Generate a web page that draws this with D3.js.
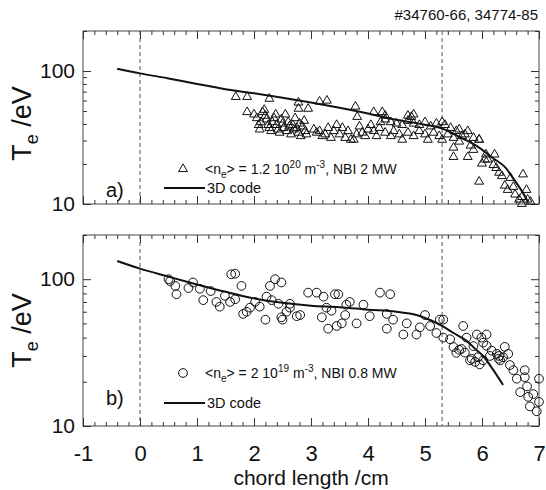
<!DOCTYPE html>
<html>
<head>
<meta charset="utf-8">
<script src="https://cdn.jsdelivr.net/npm/d3@7"></script>
<style>
  body { margin: 0; background: #fff; }
  svg { display: block; font-family: "Liberation Sans", Arial, sans-serif; }
</style>
</head>
<body>
<div id="chart"></div>
<script>
// chord length (cm), Te (eV)
const codeA = [[-0.4,104],[0,96],[0.5,88],[1,80],[1.5,73],[2,68],[2.5,63],[3,58],[3.5,53],[4,48],[4.5,43],[5,39.5],[5.3,37],[5.6,32],[5.9,27.5],[6.2,22],[6.4,19],[6.55,15.5],[6.7,12.5],[6.8,10.5]]

const measA = [
  [1.68,65],[1.88,65],[2.27,63],[2.78,59],[2.78,53],[2.95,53],[3.15,60],[3.28,61],[3.78,55],[3.81,46],[4.1,50],[4.25,50],[4.3,47],[4.7,47],[4.76,46],[4.8,48],
  [1.88,50],[2.0,48],[2.05,45],[2.08,40],[2.1,37],[2.12,42],[2.15,50],[2.18,52],[2.2,47],[2.22,44],[2.25,40],[2.27,38],[2.3,36],[2.32,42],[2.35,45],[2.38,48],[2.4,40],[2.42,37],[2.45,35],[2.48,44],[2.5,41],[2.52,38],[2.55,48],[2.58,36],[2.6,42],[2.62,39],[2.65,34],[2.68,40],[2.7,37],[2.72,45],[2.75,38],[2.78,35],[2.8,41],[2.82,33],[2.85,39],[2.88,43],[2.9,36],[2.92,34],
  [3.05,37],[3.1,35],[3.15,36],[3.2,33],[3.25,34],[3.3,38],[3.35,32],[3.4,36],[3.45,40],[3.5,34],[3.55,38],[3.6,32],[3.65,36],[3.7,31],[3.75,31],[3.8,34],[3.85,39],[3.9,35],[3.95,33],[4.0,37],[4.05,40],[4.1,36],[4.15,33],[4.2,38],[4.22,42],
  [4.3,44],[4.4,42],[4.5,41],[4.6,40],[4.7,43],[4.8,41],[4.9,40],[5.0,42],[5.1,39],[5.2,41],[5.3,42],[5.35,40],[5.45,38],[5.55,36],[5.6,37],[5.7,34],[5.75,36],[5.85,32],[5.95,31],
  [4.3,35],[4.4,33],[4.45,36],[4.55,34],[4.6,31],[4.7,35],[4.8,33],[4.9,36],[5.0,34],[5.05,31],[5.15,35],[5.25,33],[5.3,31],[5.4,34],[5.5,32],[5.6,30],[5.65,33],
  [5.5,27],[5.5,23],[5.75,23],[5.95,31],[5.95,15],[6.0,20.5],[6.07,24],[6.1,22],[6.22,24],[6.25,19],[6.3,17.5],[6.35,16.5],[6.4,14],[6.45,13],[6.5,16],[6.55,13.7],[6.58,12],[6.65,11],[6.7,11.5],[6.72,17],[6.78,13],[6.8,11],[6.7,10.2],[6.85,10.6],[6.2,20],[6.05,22],[5.85,26],[5.8,28]
]

const codeB = [[-0.4,133],[0,118],[0.5,104],[1,92],[1.5,82],[2,74],[2.5,69],[3,66],[3.5,64.5],[4,62],[4.5,60],[4.85,57],[5.1,52.5],[5.3,48],[5.5,43],[5.73,38],[5.9,33],[6.02,30],[6.2,24],[6.37,19]]

const measB = [
  [0.5,100],[0.53,97],[0.62,90],[0.64,79],[0.85,87],[0.93,95],[1.05,86],[1.11,72],[1.24,83],[1.34,70],[1.4,65],[1.49,77],[1.58,70],[1.6,108],[1.67,109],[1.67,73],[1.78,90],[1.81,58],[1.87,60],[1.93,64],
  [2.02,70],[2.1,65],[2.22,76],[2.31,72],[2.28,90],[2.37,100],[2.48,95],[2.43,68],[2.48,55],[2.57,60],[2.63,68],[2.63,64],[2.2,53],[2.5,53],[2.75,56],[2.81,57],[2.95,81],
  [3.1,81],[3.22,76],[3.19,55],[3.27,64],[3.36,61],[3.3,46],[3.42,79],[3.48,79],[3.54,50],[3.45,48],[3.62,67],[3.6,57],[3.68,70],[3.8,50],[3.92,67],[4.03,56],
  [4.21,81],[4.33,58],[4.33,46],[4.39,79],[4.44,53],[4.62,42],[4.68,50],[4.85,42],[4.91,47],[5.0,57],[5.09,48],[5.2,43],[5.26,53],[5.32,53],[5.32,40],
  [5.44,39],[5.5,34.5],[5.55,31.5],[5.64,33.5],[5.67,48],[5.7,31.6],[5.73,40],[5.82,28.7],[5.85,35],[5.88,27.3],[5.91,42],[5.99,40],[6.02,37],[6.08,42],[6.08,35.2],
  [6.14,30],[6.17,32.6],[6.26,31],[6.29,28.7],[6.37,29.4],[6.4,34.6],[6.46,31],[6.49,26],[6.55,24],[5.79,28],[6.02,28],[6.32,28],[5.96,26.3],[5.93,29.4],[5.6,33],[6.3,30],
  [6.75,24],[6.75,21.5],[6.61,21],[6.67,17],[6.79,18.6],[6.81,15.8],[6.9,16.5],[6.84,13.6],[6.96,12.6],[7.0,21],[7.0,14.6]
]

const xMajor = [-1, 0, 1, 2, 3, 4, 5, 6, 7]
const yMajor = [10, 100]
const yMinor = [20, 30, 40, 50, 60, 70, 80, 90, 200]
const guideLines = [0, 5.3]

const width = 546
const height = 490
const ink = "#111"

const svg = d3.select("#chart")
  .append("svg")
    .attr("width", width)
    .attr("height", height)

const xScale = d3.scaleLinear()
  .domain([-1, 7])
  .range([83, 539])

const xMinor = d3.range(-1, 7.001, 0.2).map(d => +d.toFixed(1))

const drawPanel = (top, bottom, data, code, marker, tag, legend, showX) => {
  const yScale = d3.scaleLog()
    .domain([10, 200])
    .range([bottom, top])

  const g = svg.append("g")

  // frame
  g.append("rect")
    .attr("x", xScale(-1))
    .attr("y", top)
    .attr("width", xScale(7) - xScale(-1))
    .attr("height", bottom - top)
    .attr("fill", "none")
    .attr("stroke", "#444")

  g.selectAll(".guide")
    .data(guideLines)
    .join("line")
      .attr("x1", d => xScale(d))
      .attr("x2", d => xScale(d))
      .attr("y1", top)
      .attr("y2", bottom)
      .attr("stroke", "#555")
      .attr("stroke-dasharray", "4,3")

  const none = () => ""
  const axes = [
    [d3.axisBottom(xScale).tickValues(xMajor).tickSize(-8).tickFormat(showX ? d => String(d) : none), `translate(0,${bottom})`, 19, "22px"],
    [d3.axisBottom(xScale).tickValues(xMinor).tickSize(-4).tickFormat(none), `translate(0,${bottom})`, 8, "20px"],
    [d3.axisTop(xScale).tickValues(xMajor).tickSize(-8).tickFormat(none), `translate(0,${top})`, 8, "20px"],
    [d3.axisTop(xScale).tickValues(xMinor).tickSize(-4).tickFormat(none), `translate(0,${top})`, 8, "20px"],
    [d3.axisLeft(yScale).tickValues(yMajor).tickSize(-8).tickFormat(d3.format("d")), `translate(${xScale(-1)},0)`, 8, "21px"],
    [d3.axisLeft(yScale).tickValues(yMinor).tickSize(-4).tickFormat(none), `translate(${xScale(-1)},0)`, 8, "20px"],
    [d3.axisRight(yScale).tickValues(yMajor).tickSize(-8).tickFormat(none), `translate(${xScale(7)},0)`, 8, "20px"],
    [d3.axisRight(yScale).tickValues(yMinor).tickSize(-4).tickFormat(none), `translate(${xScale(7)},0)`, 8, "20px"]
  ]

  axes.forEach(([axis, tr, pad, size]) => {
    const a = g.append("g")
      .attr("transform", tr)
      .call(axis.tickPadding(pad))
    a.select(".domain").remove()
    a.selectAll("line").attr("stroke", "#333")
    a.selectAll("text")
      .attr("fill", ink)
      .style("font-size", size)
      .style("font-family", "Liberation Sans, Arial, sans-serif")
  })

  const line = d3.line()
    .x(d => xScale(d[0]))
    .y(d => yScale(d[1]))
    .curve(d3.curveMonotoneX)

  g.append("path")
    .attr("d", line(code))
    .attr("fill", "none")
    .attr("stroke", ink)
    .attr("stroke-width", 2)

  const sym = d3.symbol().type(marker === "tri" ? d3.symbolTriangle : d3.symbolCircle)
    .size(marker === "tri" ? 34 : 60)

  g.selectAll(".pt")
    .data(data)
    .join("path")
      .attr("d", sym)
      .attr("transform", d => `translate(${xScale(d[0])},${yScale(d[1]) + (marker === "tri" ? 1 : 0)})`)
      .attr("fill", "none")
      .attr("stroke", ink)
      .attr("stroke-width", 1)

  // y label
  const ly = (top + bottom) / 2 + legend.labelShift
  const yl = g.append("text")
    .attr("transform", `translate(31,${ly}) rotate(-90)`)
    .attr("text-anchor", "middle")
    .attr("fill", ink)
    .style("font-size", "27px")
  yl.append("tspan").text("T")
  yl.append("tspan").text("e").attr("dy", 7).style("font-size", "18px")
  yl.append("tspan").text(" /eV").attr("dy", -7)

  g.append("text")
    .attr("x", 106)
    .attr("y", legend.tagY)
    .attr("fill", ink)
    .style("font-size", "20px")
    .text(tag)

  // legend
  g.append("path")
    .attr("d", sym)
    .attr("transform", `translate(183,${legend.y1})`)
    .attr("fill", "none")
    .attr("stroke", ink)

  const t1 = g.append("text")
    .attr("x", 205)
    .attr("y", legend.y1 + 5)
    .attr("fill", ink)
    .style("font-size", "14px")
  t1.append("tspan").text("<n")
  t1.append("tspan").text("e").attr("dy", 4).style("font-size", "10px")
  t1.append("tspan").text(`> = ${legend.n} 10`).attr("dy", -4)
  t1.append("tspan").text(legend.exp).attr("dy", -6).style("font-size", "10px")
  t1.append("tspan").text(" m").attr("dy", 6)
  t1.append("tspan").text("-3").attr("dy", -6).style("font-size", "10px")
  t1.append("tspan").text(`, NBI ${legend.nbi} MW`).attr("dy", 6)

  g.append("line")
    .attr("x1", 164)
    .attr("x2", 205)
    .attr("y1", legend.y2)
    .attr("y2", legend.y2)
    .attr("stroke", ink)
    .attr("stroke-width", 2)

  g.append("text")
    .attr("x", 207)
    .attr("y", legend.y2 + 5)
    .attr("fill", ink)
    .style("font-size", "14.5px")
    .text("3D code")
}

drawPanel(31, 204, measA, codeA, "tri", "a)",
  { y1: 169, y2: 188, n: "1.2", exp: "20", nbi: "2", tagY: 197, labelShift: 6 }, false)

drawPanel(235, 426, measB, codeB, "circ", "b)",
  { y1: 373, y2: 403, n: "2", exp: "19", nbi: "0.8", tagY: 405, labelShift: 0 }, true)

svg.append("text")
  .attr("x", (xScale(-1) + xScale(7)) / 2)
  .attr("y", 485)
  .attr("text-anchor", "middle")
  .attr("fill", ink)
  .style("font-size", "21px")
  .text("chord length /cm")

svg.append("text")
  .attr("x", 538)
  .attr("y", 20)
  .attr("text-anchor", "end")
  .attr("fill", ink)
  .style("font-size", "15px")
  .text("#34760-66, 34774-85")
</script>
</body>
</html>
